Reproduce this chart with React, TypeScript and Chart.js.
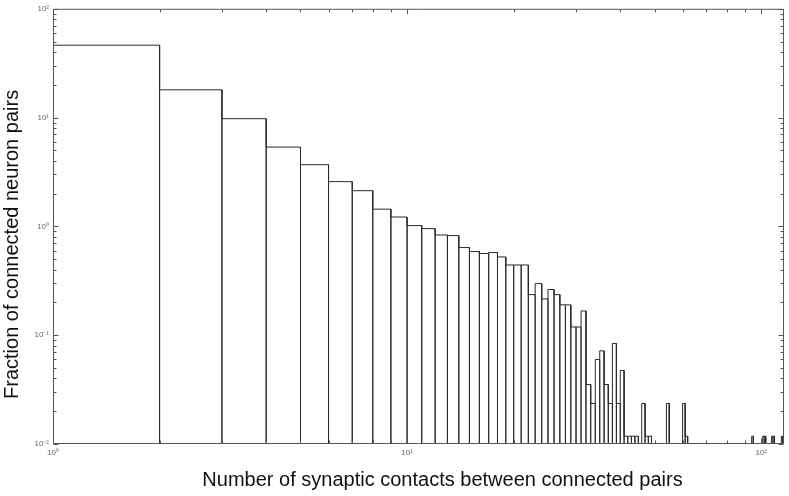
import React, { useEffect, useRef } from 'react';
import { Chart, registerables } from 'chart.js';

Chart.register(...registerables);

// Histogram bins: each bin covers [binStart, binStart + 1)
const binStart = [
  1, 2, 3, 4, 5, 6, 7, 8, 9, 10,
  11, 12, 13, 14, 15, 16, 17, 18, 19, 20,
  21, 22, 23, 24, 25, 26, 27, 28, 29, 30,
  31, 32, 33, 34, 35, 36, 37, 38, 39, 40,
  41, 42, 43, 44, 46, 47, 48, 54, 60, 61,
  94, 101, 102, 107, 108, 114,
];
const fraction = [
  46.3, 18.0, 9.77, 5.36, 3.69, 2.58, 2.13, 1.44, 1.22, 1.017,
  0.954, 0.834, 0.823, 0.639, 0.587, 0.563, 0.575, 0.524, 0.442, 0.442,
  0.442, 0.236, 0.298, 0.2155, 0.263, 0.236, 0.19, 0.19, 0.119, 0.119,
  0.167, 0.0352, 0.0236, 0.0598, 0.0718, 0.0352, 0.0236, 0.084, 0.0236, 0.0474,
  0.0118, 0.0118, 0.0118, 0.0118, 0.0236, 0.0118, 0.0118, 0.0236, 0.0236, 0.0118,
  0.0118, 0.0118, 0.0118, 0.0118, 0.0118, 0.0118,
];

const xTickValues = [1, 10, 100];
const xTickLabels = ['10⁰', '10¹', '10²'];
const yTickValues = [0.01, 0.1, 1, 10, 100];
const yTickLabels = ['10⁻²', '10⁻¹', '10⁰', '10¹', '10²'];

const xTitle = 'Number of synaptic contacts between connected pairs';
const yTitle = 'Fraction of connected neuron pairs';

const X_MIN = 1;
const X_MAX = 116;
const Y_MIN = 0.01;
const Y_MAX = 100;

const AXIS_COLOR = '#555555';
const BAR_COLOR = '#2a2a2a';
const FONT = '"Liberation Sans", Arial, Helvetica, sans-serif';

function buildOutline() {
  const pts: { x: number; y: number }[] = [];
  binStart.forEach((b, i) => {
    const v = fraction[i];
    pts.push({ x: b, y: Y_MIN }, { x: b, y: v }, { x: b + 1, y: v }, { x: b + 1, y: Y_MIN });
  });
  return pts;
}

function logTickValues(min: number, max: number) {
  const out: { v: number; major: boolean }[] = [];
  const d0 = Math.floor(Math.log10(min));
  const d1 = Math.ceil(Math.log10(max));
  for (let d = d0; d <= d1; d++) {
    for (let m = 1; m <= 9; m++) {
      const v = m * Math.pow(10, d);
      if (v < min * 0.9999 || v > max * 1.0001) continue;
      out.push({ v, major: m === 1 });
    }
  }
  return out;
}

const framePlugin = {
  id: 'matlabFrame',
  afterDraw(chart: any) {
    const { ctx, chartArea: a, scales } = chart;
    const xs = scales.x;
    const ys = scales.y;
    const L = a.left + 0.5;
    const R = a.right - 0.5;
    const T = a.top + 0.5;
    const B = a.bottom - 0.5;
    ctx.save();
    ctx.strokeStyle = AXIS_COLOR;
    ctx.lineWidth = 1;
    ctx.beginPath();
    ctx.rect(L, T, R - L, B - T);
    for (const t of logTickValues(X_MIN, X_MAX)) {
      const px = Math.round(xs.getPixelForValue(t.v)) + 0.5;
      const len = t.major ? 5 : 3;
      ctx.moveTo(px, B);
      ctx.lineTo(px, B - len);
      ctx.moveTo(px, T);
      ctx.lineTo(px, T + len);
    }
    for (const t of logTickValues(Y_MIN, Y_MAX)) {
      const py = Math.round(ys.getPixelForValue(t.v)) + 0.5;
      const len = t.major ? 5 : 3;
      ctx.moveTo(L, py);
      ctx.lineTo(L + len, py);
      ctx.moveTo(R, py);
      ctx.lineTo(R - len, py);
    }
    ctx.stroke();

    ctx.fillStyle = '#111111';
    ctx.font = `20px ${FONT}`;
    ctx.textAlign = 'center';
    ctx.textBaseline = 'alphabetic';
    const cx = (a.left + a.right) / 2 + 24;
    ctx.fillText(xTitle, cx, 486);
    ctx.save();
    ctx.translate(18, (a.top + a.bottom) / 2 + 18);
    ctx.rotate(-Math.PI / 2);
    ctx.fillText(yTitle, 0, 0);
    ctx.restore();
    ctx.restore();
  },
};

export default function App() {
  const canvasRef = useRef<HTMLCanvasElement | null>(null);

  useEffect(() => {
    document.body.style.margin = '0';
    const canvas = canvasRef.current;
    if (!canvas) return;
    const chart = new Chart(canvas, {
      type: 'line',
      data: {
        datasets: [
          {
            data: buildOutline(),
            borderColor: BAR_COLOR,
            borderWidth: 1,
            pointRadius: 0,
            tension: 0,
            fill: false,
          },
        ],
      },
      options: {
        responsive: false,
        animation: false,
        devicePixelRatio: 1,
        layout: { padding: { top: 8, right: 5, left: 0, bottom: 0 } },
        plugins: {
          legend: { display: false },
          tooltip: { enabled: false },
        },
        scales: {
          x: {
            type: 'logarithmic',
            min: X_MIN,
            max: X_MAX,
            grid: { display: false, drawTicks: false },
            border: { display: false },
            afterBuildTicks: (s: any) => {
              s.ticks = xTickValues.map((v) => ({ value: v }));
            },
            afterFit: (s: any) => {
              s.height = 52;
            },
            ticks: {
              autoSkip: false,
              maxRotation: 0,
              padding: 4,
              color: '#666666',
              font: { size: 8, family: FONT },
              callback: (v: any) => {
                const i = xTickValues.indexOf(Number(v));
                return i >= 0 ? xTickLabels[i] : '';
              },
            },
          },
          y: {
            type: 'logarithmic',
            min: Y_MIN,
            max: Y_MAX,
            grid: { display: false, drawTicks: false },
            border: { display: false },
            afterBuildTicks: (s: any) => {
              s.ticks = yTickValues.map((v) => ({ value: v }));
            },
            afterFit: (s: any) => {
              s.width = 53;
            },
            ticks: {
              autoSkip: false,
              padding: 4,
              color: '#666666',
              font: { size: 8, family: FONT },
              callback: (v: any) => {
                const i = yTickValues.indexOf(Number(v));
                return i >= 0 ? yTickLabels[i] : '';
              },
            },
          },
        },
      },
      plugins: [framePlugin],
    });
    return () => chart.destroy();
  }, []);

  return (
    <div style={{ width: 789, height: 496, background: '#ffffff' }}>
      <canvas ref={canvasRef} width={789} height={496} />
    </div>
  );
}
